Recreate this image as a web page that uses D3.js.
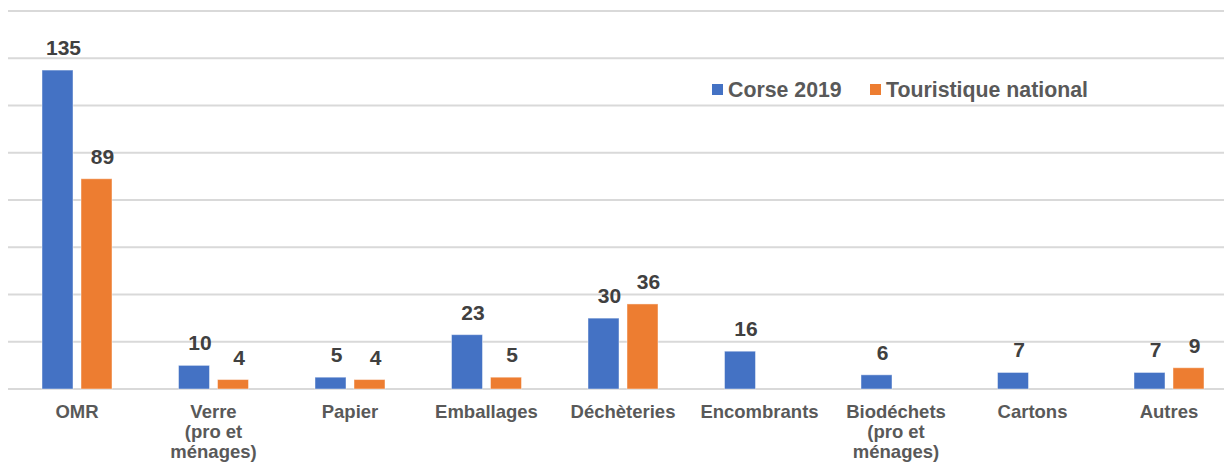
<!DOCTYPE html>
<html>
<head>
<meta charset="utf-8">
<script src="https://cdn.jsdelivr.net/npm/d3@7"></script>
<style>
  html, body { margin: 0; padding: 0; background: #fff; }
  svg { display: block; font-family: "Liberation Sans", Arial, sans-serif; }
</style>
</head>
<body>
<svg id="chart"></svg>
<script>
// ─── Data ──────────────────────────────────────────────────────────────────
const categories = [
  ["OMR"],
  ["Verre", "(pro et", "ménages)"],
  ["Papier"],
  ["Emballages"],
  ["Déchèteries"],
  ["Encombrants"],
  ["Biodéchets", "(pro et", "ménages)"],
  ["Cartons"],
  ["Autres"]
];
const seriesNames = ["Corse 2019", "Touristique national"];
const corse2019 = [135, 10, 5, 23, 30, 16, 6, 7, 7];
const touristique = [89, 4, 4, 5, 36, null, null, null, 9];
const gridTicks = [0, 20, 40, 60, 80, 100, 120, 140, 160];

// ─── Layout ────────────────────────────────────────────────────────────────
const W = 1224, H = 463;
const COLORS = ["#4472C4", "#ED7D31"];
const GRID = "#d9d9d9";

const svg = d3.select("#chart").attr("width", W).attr("height", H);

const keys = categories.map((c, i) => i);
const x0 = d3.scaleBand().domain(keys).range([8.75, 1237.25]);
const x1 = d3.scaleBand().domain([0, 1]).range([-35, 35]).paddingInner(8 / 39);
const y = d3.scaleLinear().domain([0, 160]).range([389, 11]);

// ── Gridlines ──────────────────────────────────────────────────────────────
svg.append("g").selectAll("line").data(gridTicks).join("line")
  .attr("x1", 8).attr("x2", W)
  .attr("y1", d => y(d)).attr("y2", d => y(d))
  .attr("stroke", GRID).attr("stroke-width", 2);

// ── Bars + value labels ────────────────────────────────────────────────────
const series = [corse2019, touristique];
series.forEach((vals, s) => {
  const pts = vals.map((v, i) => ({ v, i })).filter(d => d.v != null);
  const cx = d => x0(d.i) + x0.bandwidth() / 2 + x1(s);

  svg.append("g").selectAll("rect").data(pts).join("rect")
    .attr("x", cx)
    .attr("y", d => y(d.v))
    .attr("width", x1.bandwidth())
    .attr("height", d => y(0) - y(d.v))
    .attr("fill", COLORS[s])
    .attr("stroke", "rgba(255,255,255,0.45)").attr("stroke-width", 1);

  // labels sit a little right of the bar centre, like the original
  svg.append("g").selectAll("text").data(pts).join("text")
    .attr("x", d => cx(d) + x1.bandwidth() / 2 + 6)
    .attr("y", d => y(d.v) - 15)
    .attr("text-anchor", "middle")
    .attr("font-size", "21px").attr("font-weight", "700")
    .attr("fill", "#404040")
    .text(d => d.v);
});

// ── Category labels ────────────────────────────────────────────────────────
const catG = svg.append("g").selectAll("text").data(categories).join("text")
  .attr("text-anchor", "middle")
  .attr("font-size", "18.5px").attr("font-weight", "700")
  .attr("fill", "#595959");
catG.each(function (lines, i) {
  const t = d3.select(this);
  lines.forEach((ln, j) => {
    t.append("tspan")
      .attr("x", x0(i) + x0.bandwidth() / 2)
      .attr("y", 418 + j * 20)
      .text(ln);
  });
});

// ── Legend ─────────────────────────────────────────────────────────────────
const legendX = [712, 870];
const leg = svg.append("g").selectAll("g").data(seriesNames).join("g")
  .attr("transform", (d, i) => `translate(${legendX[i]},84)`);
leg.append("rect").attr("width", 11).attr("height", 11)
  .attr("fill", (d, i) => COLORS[i]);
leg.append("text").attr("x", 16).attr("y", 12.5)
  .attr("font-size", "21.3px").attr("font-weight", "700")
  .attr("fill", "#595959")
  .text(d => d);
</script>
</body>
</html>
